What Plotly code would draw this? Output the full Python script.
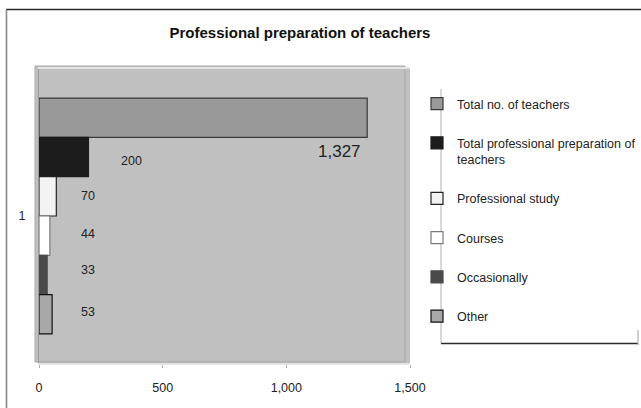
import plotly.graph_objects as go

# ---- data ----
category = ["1"]
series_names = [
    "Total no. of teachers",
    "Total professional preparation of<br>teachers",
    "Professional study",
    "Courses",
    "Occasionally",
    "Other",
]
series_values = [1327, 200, 70, 44, 33, 53]
x_ticks = [0, 500, 1000, 1500]
x_tick_labels = ["0", "500", "1,000", "1,500"]

# ---- styling ----
fill_colors = ["#999999", "#1c1c1c", "#f3f3f3", "#ffffff", "#4a4a4a", "#a8a8a8"]
line_colors = ["#3a3a3a", "#1c1c1c", "#222222", "#7a7a7a", "#4a4a4a", "#111111"]
# (xshift, yshift, anchor, size) for each value label, in pixels
label_style = [
    (-4, -34, "right", 17),
    (31, -4, "left", 12.5),
    (23, 0, "left", 12.5),
    (29, 2, "left", 12.5),
    (32, 5, "left", 12.5),
    (27, 2, "left", 12.5),
]

FONT = "Liberation Sans, Arial, sans-serif"
W, H = 641, 408
L, R, T, B = 39, 231, 69, 45
plot_w, plot_h = W - L - R, H - T - B


def px(xp):
    return (xp - L) / plot_w


def py(yp):
    return (H - B - yp) / plot_h


fig = go.Figure()
for name, val, fc, lc in zip(series_names, series_values, fill_colors, line_colors):
    fig.add_trace(
        go.Bar(
            y=category,
            x=[val],
            name=name,
            orientation="h",
            legendgroup=name,
            marker=dict(color=fc, line=dict(color=lc, width=1.2)),
        )
    )

bargap = 0.198
n = len(series_values)
bar_w = (1 - bargap) / n
annotations = []
for i, (val, (xs, ys, anc, size)) in enumerate(zip(series_values, label_style)):
    ycenter = -(1 - bargap) / 2 + bar_w * (i + 0.5)
    annotations.append(
        dict(
            x=val, y=ycenter, xref="x", yref="y",
            text=f"{val:,}", showarrow=False,
            xanchor=anc, yanchor="middle",
            xshift=xs, yshift=ys,
            font=dict(family=FONT, size=size, color="#222222"),
        )
    )

shapes = [
    # plot area backdrop
    dict(type="rect", xref="paper", yref="paper", layer="below",
         x0=px(35), x1=px(405), y0=py(362), y1=py(66),
         fillcolor="#c0c0c0", line=dict(color="#a9a9a9", width=1)),
    # chart frame: top and left edges
    dict(type="line", xref="paper", yref="paper",
         x0=px(6), x1=px(641), y0=py(9.5), y1=py(9.5),
         line=dict(color="#2a2a2a", width=1.6)),
    dict(type="line", xref="paper", yref="paper",
         x0=px(6.5), x1=px(6.5), y0=py(9.5), y1=py(408),
         line=dict(color="#8a8a8a", width=1.6)),
    # legend box: left and bottom edges
    dict(type="line", xref="paper", yref="paper",
         x0=px(441), x1=px(441), y0=py(89), y1=py(343.5),
         line=dict(color="#b0b0b0", width=1)),
    dict(type="line", xref="paper", yref="paper",
         x0=px(441), x1=px(638), y0=py(343.5), y1=py(343.5),
         line=dict(color="#2a2a2a", width=1.6)),
    dict(type="line", xref="paper", yref="paper",
         x0=px(638), x1=px(638), y0=py(330), y1=py(345),
         line=dict(color="#b0b0b0", width=1.2)),
]

fig.update_layout(
    width=W, height=H,
    margin=dict(l=L, r=R, t=T, b=B, pad=0, autoexpand=False),
    paper_bgcolor="#ffffff",
    plot_bgcolor="#c0c0c0",
    barmode="group",
    bargap=bargap,
    title=dict(
        text="<b>Professional preparation of teachers</b>",
        x=px(300), xref="paper", xanchor="center",
        y=1 - 33 / H, yanchor="middle",
        font=dict(family=FONT, size=15, color="#111111"),
    ),
    font=dict(family=FONT, size=12.5, color="#222222"),
    xaxis=dict(
        range=[0, 1500], tickvals=x_ticks, ticktext=x_tick_labels,
        showgrid=False, zeroline=False, showline=True, linecolor="#e4e4e4",
        linewidth=1.5, mirror=True, ticks="outside", ticklen=3,
        tickcolor="#b0b0b0", ticklabelstandoff=9,
        tickfont=dict(family=FONT, size=12.5, color="#222222"),
        fixedrange=True,
    ),
    yaxis=dict(
        autorange="reversed", showgrid=False, zeroline=False, showline=True,
        linecolor="#9a9a9a", linewidth=1, mirror=False, ticks="",
        ticklabelstandoff=10,
        tickfont=dict(family=FONT, size=12.5, color="#222222"),
        fixedrange=True,
    ),
    legend=dict(
        x=px(417), y=py(89), xanchor="left", yanchor="top",
        xref="paper", yref="paper",
        bgcolor="rgba(0,0,0,0)", borderwidth=0,
        tracegroupgap=20, valign="top", traceorder="grouped",
        font=dict(family=FONT, size=12.5, color="#222222"),
    ),
    annotations=annotations,
    shapes=shapes,
    showlegend=True,
)

fig.write_html("out.html")
